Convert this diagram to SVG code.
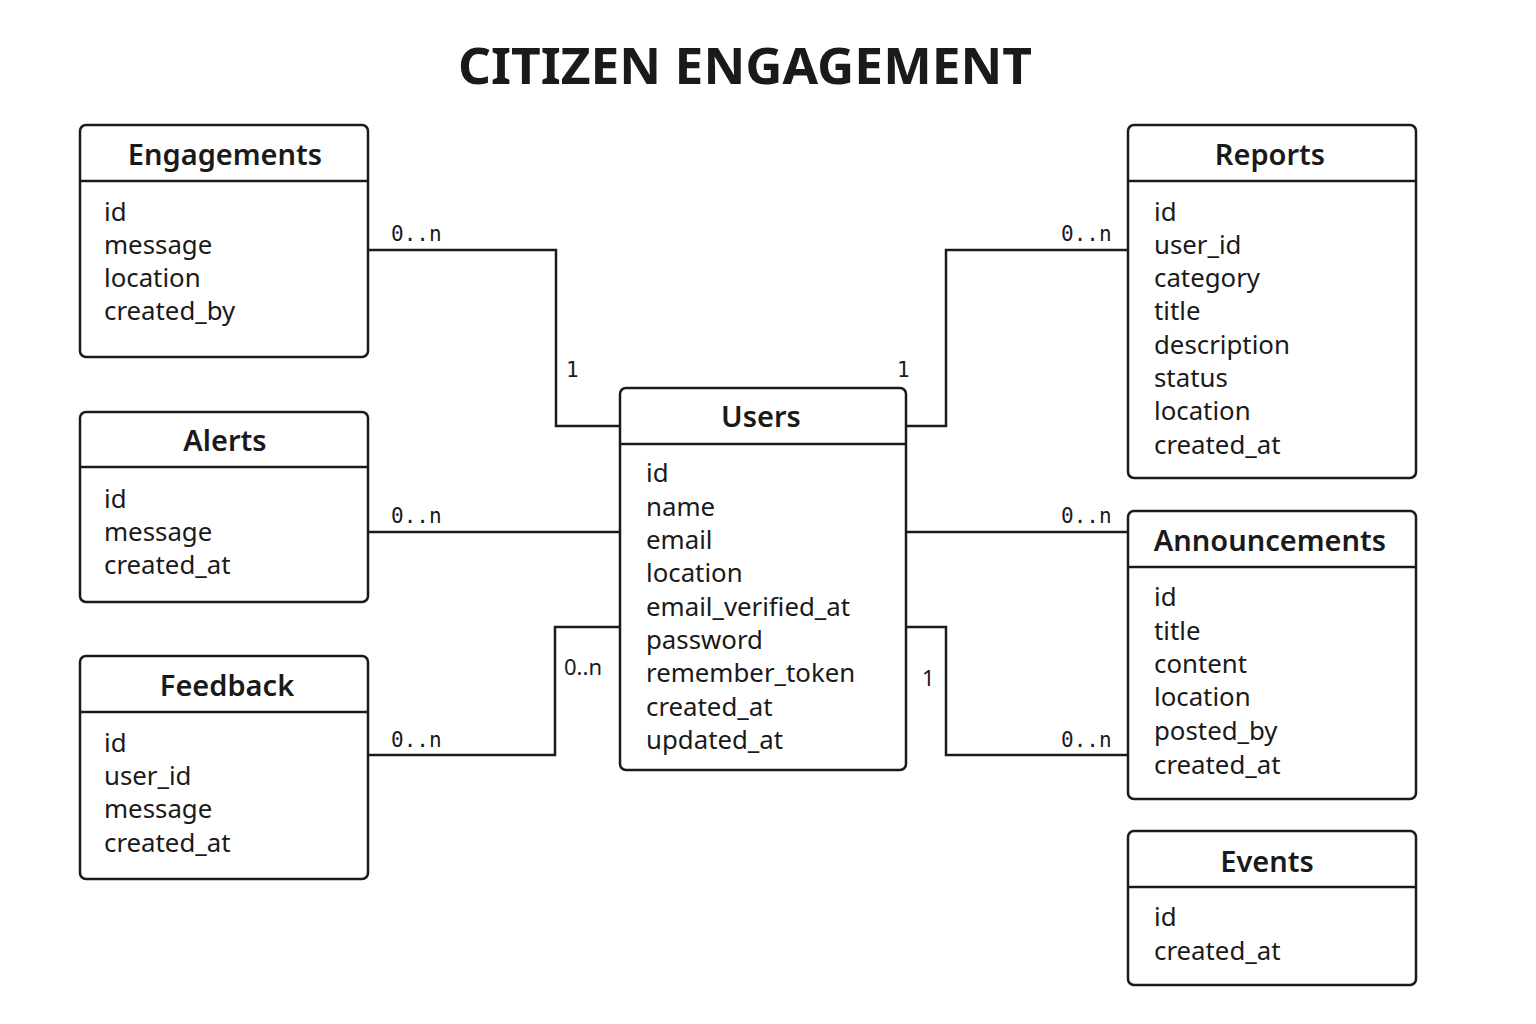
<svg xmlns="http://www.w3.org/2000/svg" width="1536" height="1024" viewBox="0 0 1536 1024">
<style>
.box{fill:#fff;stroke:#1a1a1a;stroke-width:2.5}
.sep{stroke:#1a1a1a;stroke-width:2.5}
.ttl{font-family:"Noto Sans","Open Sans",sans-serif;font-weight:600;font-size:29px;fill:#1a1a1a;text-anchor:middle}
.attr{font-family:"Noto Sans","Open Sans",sans-serif;font-size:25.8px;fill:#1a1a1a}
.conn{fill:none;stroke:#1a1a1a;stroke-width:2.5}
.lbl{font-family:"DejaVu Sans Mono",monospace;font-size:21px;fill:#1a1a1a}
.lbl2{font-family:"Noto Sans",sans-serif;font-size:22px;fill:#1a1a1a}
.title{font-family:"Noto Sans","Open Sans",sans-serif;font-weight:700;font-size:50px;fill:#1a1a1a;text-anchor:middle}
</style>
<rect width="1536" height="1024" fill="#fff"/>
<text class="title" x="745" y="84" textLength="574" lengthAdjust="spacingAndGlyphs">CITIZEN ENGAGEMENT</text>

<g id="connectors">
<polyline class="conn" points="368,250 556,250 556,426 620,426"/>
<polyline class="conn" points="906,426 946,426 946,250 1128,250"/>
<line class="conn" x1="368" y1="532" x2="620" y2="532"/>
<line class="conn" x1="906" y1="532" x2="1128" y2="532"/>
<polyline class="conn" points="368,755 555,755 555,627 620,627"/>
<polyline class="conn" points="906,627 946,627 946,755 1128,755"/>
<text class="lbl" x="391" y="241">0..n</text>
<text class="lbl" x="566" y="377">1</text>
<text class="lbl" x="1061" y="241">0..n</text>
<text class="lbl" x="897" y="377">1</text>
<text class="lbl" x="391" y="523">0..n</text>
<text class="lbl" x="1061" y="523">0..n</text>
<text class="lbl" x="391" y="747">0..n</text>
<text class="lbl2" x="564" y="675">0..n</text>
<text class="lbl2" x="922" y="686">1</text>
<text class="lbl" x="1061" y="747">0..n</text>
</g>

<g id="engagements">
<rect class="box" x="80" y="125" width="288" height="232" rx="6"/>
<line class="sep" x1="80" y1="181" x2="368" y2="181"/>
<text class="ttl" x="225" y="165">Engagements</text>
<text class="attr" x="104" y="221">id</text>
<text class="attr" x="104" y="254">message</text>
<text class="attr" x="104" y="287">location</text>
<text class="attr" x="104" y="320">created_by</text>
</g>

<g id="alerts">
<rect class="box" x="80" y="412" width="288" height="190" rx="6"/>
<line class="sep" x1="80" y1="467" x2="368" y2="467"/>
<text class="ttl" x="225" y="451">Alerts</text>
<text class="attr" x="104" y="508">id</text>
<text class="attr" x="104" y="541">message</text>
<text class="attr" x="104" y="574">created_at</text>
</g>

<g id="feedback">
<rect class="box" x="80" y="656" width="288" height="223" rx="6"/>
<line class="sep" x1="80" y1="712" x2="368" y2="712"/>
<text class="ttl" x="227" y="696">Feedback</text>
<text class="attr" x="104" y="752">id</text>
<text class="attr" x="104" y="785">user_id</text>
<text class="attr" x="104" y="818">message</text>
<text class="attr" x="104" y="852">created_at</text>
</g>

<g id="users">
<rect class="box" x="620" y="388" width="286" height="382" rx="6"/>
<line class="sep" x1="620" y1="444" x2="906" y2="444"/>
<text class="ttl" x="761" y="427">Users</text>
<text class="attr" x="646" y="482">id</text>
<text class="attr" x="646" y="516">name</text>
<text class="attr" x="646" y="549">email</text>
<text class="attr" x="646" y="582">location</text>
<text class="attr" x="646" y="616">email_verified_at</text>
<text class="attr" x="646" y="649">password</text>
<text class="attr" x="646" y="682">remember_token</text>
<text class="attr" x="646" y="716">created_at</text>
<text class="attr" x="646" y="749">updated_at</text>
</g>

<g id="reports">
<rect class="box" x="1128" y="125" width="288" height="353" rx="6"/>
<line class="sep" x1="1128" y1="181" x2="1416" y2="181"/>
<text class="ttl" x="1270" y="165">Reports</text>
<text class="attr" x="1154" y="221">id</text>
<text class="attr" x="1154" y="254">user_id</text>
<text class="attr" x="1154" y="287">category</text>
<text class="attr" x="1154" y="320">title</text>
<text class="attr" x="1154" y="354">description</text>
<text class="attr" x="1154" y="387">status</text>
<text class="attr" x="1154" y="420">location</text>
<text class="attr" x="1154" y="454">created_at</text>
</g>

<g id="announcements">
<rect class="box" x="1128" y="511" width="288" height="288" rx="6"/>
<line class="sep" x1="1128" y1="567" x2="1416" y2="567"/>
<text class="ttl" x="1270" y="551">Announcements</text>
<text class="attr" x="1154" y="606">id</text>
<text class="attr" x="1154" y="640">title</text>
<text class="attr" x="1154" y="673">content</text>
<text class="attr" x="1154" y="706">location</text>
<text class="attr" x="1154" y="740">posted_by</text>
<text class="attr" x="1154" y="774">created_at</text>
</g>

<g id="events">
<rect class="box" x="1128" y="831" width="288" height="154" rx="6"/>
<line class="sep" x1="1128" y1="887" x2="1416" y2="887"/>
<text class="ttl" x="1267" y="872">Events</text>
<text class="attr" x="1154" y="926">id</text>
<text class="attr" x="1154" y="960">created_at</text>
</g>
</svg>
